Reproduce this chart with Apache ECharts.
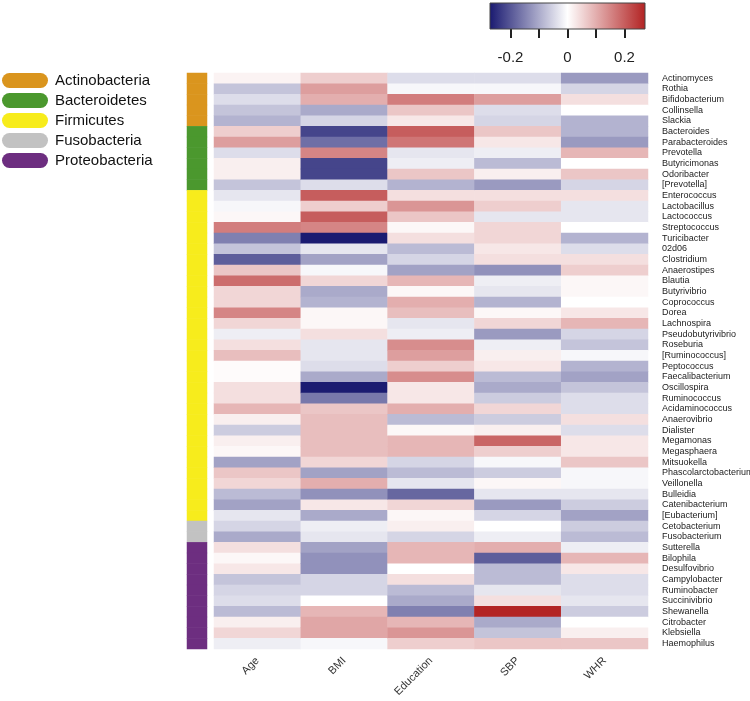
<!DOCTYPE html>
<html>
<head>
<meta charset="utf-8">
<script src="https://cdn.jsdelivr.net/npm/echarts@6/dist/echarts.min.js"></script>
<style>html,body{margin:0;padding:0;background:#fff}#c{width:750px;height:701px}</style>
</head>
<body>
<div id="c"></div>
<script>
const genera = ['Actinomyces','Rothia','Bifidobacterium','Collinsella','Slackia',
  'Bacteroides','Parabacteroides','Prevotella','Butyricimonas','Odoribacter','[Prevotella]',
  'Enterococcus','Lactobacillus','Lactococcus','Streptococcus','Turicibacter','02d06','Clostridium','Anaerostipes','Blautia','Butyrivibrio','Coprococcus','Dorea','Lachnospira','Pseudobutyrivibrio','Roseburia','[Ruminococcus]','Peptococcus','Faecalibacterium','Oscillospira','Ruminococcus','Acidaminococcus','Anaerovibrio','Dialister','Megamonas','Megasphaera','Mitsuokella','Phascolarctobacterium','Veillonella','Bulleidia','Catenibacterium','[Eubacterium]',
  'Cetobacterium','Fusobacterium',
  'Sutterella','Bilophila','Desulfovibrio','Campylobacter','Ruminobacter','Succinivibrio','Shewanella','Citrobacter','Klebsiella','Haemophilus'];
const phyla = ['Actinobacteria','Bacteroidetes','Firmicutes','Fusobacteria','Proteobacteria'];
const phylumCounts = [5, 6, 31, 2, 10];
const phylumColors = ['#DA951E','#4B982E','#F7EC1C','#C2C2C2','#6D2E80'];
const variables = ['Age','BMI','Education','SBP','WHR'];

const age = [0.015,-0.07,-0.04,-0.07,-0.09, 0.06,0.12,-0.04,0.02,0.02,-0.07,
  -0.03,-0.01,0.01,0.16,-0.15,-0.07,-0.19,0.07,0.18,0.05,0.05,0.15,0.05,-0.02,0.04,0.08,0.005,0.005,0.04,0.04,0.09,0.02,-0.06,0.02,0.01,-0.11,0.07,0.05,-0.08,-0.11,-0.03,
  -0.05,-0.10,
  0.04,0.01,0.03,-0.07,-0.05,-0.04,-0.08,0.02,0.05,-0.02];
const bmi = [0.06,0.12,0.10,-0.10,-0.05, -0.22,-0.17,0.15,-0.22,-0.22,-0.04,
  0.20,0.06,0.20,0.15,-0.27,-0.03,-0.11,-0.01,0.05,-0.10,-0.09,0.01,0.01,0.04,-0.03,-0.03,-0.04,-0.10,-0.27,-0.16,0.07,0.08,0.08,0.08,0.08,0.05,-0.11,0.10,-0.13,0.03,-0.10,
  -0.02,-0.03,
  -0.11,-0.13,-0.13,-0.05,-0.05,0.0,0.09,0.11,0.11,-0.01];
const education = [-0.04,-0.01,0.16,0.07,0.03, 0.20,0.17,-0.03,-0.02,0.07,-0.09,
  0.04,0.13,0.07,0.01,0.04,-0.08,-0.05,-0.11,0.09,0.01,0.10,0.08,-0.03,-0.02,0.14,0.12,0.06,0.14,0.03,0.03,0.10,-0.08,0.01,0.09,0.09,-0.05,-0.08,-0.03,-0.18,0.05,0.01,
  0.02,-0.05,
  0.09,0.09,0.0,0.04,-0.08,-0.10,-0.15,0.09,0.13,0.06];
const sbp = [-0.04,-0.01,0.12,-0.04,-0.05, 0.07,0.03,-0.02,-0.08,0.02,-0.12,
  0.04,0.06,-0.03,0.05,0.05,0.03,0.04,-0.13,-0.02,-0.03,-0.09,0.01,0.05,-0.12,-0.02,0.02,0.03,-0.08,-0.10,-0.06,0.05,-0.06,0.02,0.19,0.06,-0.01,-0.06,0.01,-0.03,-0.12,-0.05,
  0.0,-0.02,
  0.10,-0.19,-0.08,-0.08,-0.03,0.04,0.27,-0.10,-0.07,0.07];
const whr = [-0.12,-0.05,0.04,0.0,-0.09, -0.09,-0.12,0.09,0.0,0.07,-0.05,
  0.04,-0.03,-0.03,0.0,-0.09,-0.04,0.04,0.06,0.01,0.01,0.0,0.03,0.09,-0.05,-0.07,-0.01,-0.09,-0.11,-0.07,-0.04,-0.04,0.04,-0.04,0.03,0.03,0.07,-0.01,-0.01,-0.03,-0.06,-0.11,
  -0.06,-0.08,
  -0.02,0.09,0.03,-0.04,-0.04,-0.03,-0.06,0.0,0.02,0.07];
const colorbarTicks = [-0.2, -0.1, 0, 0.1, 0.2];
const colorbarLabels = [-0.2, 0, 0.2];
const colorRange = [-0.272, 0.272];
const rampColors = ['#191970', '#ffffff', '#b22222'];

const columns = [age, bmi, education, sbp, whr];
const mainData = [];
columns.forEach((col, xi) => col.forEach((v, yi) => mainData.push([xi, yi, v])));

const phylumSeries = [];
let rowStart = 0;
phyla.forEach((p, pi) => {
  const d = [];
  for (let r = rowStart; r < rowStart + phylumCounts[pi]; r++) d.push([0, r, 1]);
  rowStart += phylumCounts[pi];
  phylumSeries.push({
    name: p, type: 'heatmap', xAxisIndex: 1, yAxisIndex: 1,
    data: d, itemStyle: { color: phylumColors[pi] }, color: phylumColors[pi],
    emphasis: { disabled: true }, silent: true
  });
});

const font = 'Liberation Sans, Arial, sans-serif';
const chart = echarts.init(document.getElementById('c'), null, { renderer: 'canvas' });
chart.setOption({
  animation: false,
  backgroundColor: '#ffffff',
  textStyle: { fontFamily: font },
  grid: [
    { left: 214, right: 102, top: 73, bottom: 52, containLabel: false, outerBoundsMode: 'none' },
    { left: 187, width: 20, top: 73, bottom: 52, containLabel: false, outerBoundsMode: 'none' },
    { left: 490, width: 155, top: 3, height: 26, containLabel: false, outerBoundsMode: 'none' }
  ],
  xAxis: [
    { type: 'category', gridIndex: 0, data: variables, position: 'bottom',
      axisLine: { show: false }, axisTick: { show: false }, splitLine: { show: false },
      axisLabel: { rotate: 45, fontSize: 11, color: '#333', margin: 10, fontFamily: font } },
    { type: 'category', gridIndex: 1, data: ['phylum'], show: false },
    { type: 'value', gridIndex: 2, min: colorRange[0], max: colorRange[1], position: 'bottom',
      axisLine: { show: false }, splitLine: { show: false },
      axisTick: { show: true, customValues: colorbarTicks, length: 9, lineStyle: { color: '#222', width: 2 } },
      axisLabel: { customValues: colorbarLabels, fontSize: 15, color: '#222', margin: 21, fontFamily: font } }
  ],
  yAxis: [
    { type: 'category', gridIndex: 0, data: genera, inverse: true, position: 'right',
      axisLine: { show: false }, axisTick: { show: false }, splitLine: { show: false },
      axisLabel: { interval: 0, fontSize: 9, color: '#222', margin: 14, fontFamily: font } },
    { type: 'category', gridIndex: 1, data: genera, inverse: true, show: false },
    { type: 'value', gridIndex: 2, show: false, min: 0, max: 1 }
  ],
  visualMap: {
    type: 'continuous', show: false, seriesIndex: 0,
    min: colorRange[0], max: colorRange[1],
    inRange: { color: rampColors }
  },
  legend: {
    orient: 'vertical', left: 2, top: 73, padding: 0,
    itemWidth: 46, itemHeight: 15, itemGap: 5,
    selectedMode: false,
    icon: 'path://M7.5,0 L38.5,0 A7.5,7.5 0 0 1 38.5,15 L7.5,15 A7.5,7.5 0 0 1 7.5,0 Z',
    data: phyla,
    textStyle: { fontSize: 15, color: '#111', fontFamily: font, padding: [0, 0, 0, 2] }
  },
  graphic: [{
    type: 'rect', z: 10,
    shape: { x: 490, y: 3, width: 155, height: 26 },
    style: {
      fill: new echarts.graphic.LinearGradient(0, 0, 1, 0, [
        { offset: 0, color: rampColors[0] },
        { offset: 0.5, color: rampColors[1] },
        { offset: 1, color: rampColors[2] }
      ]),
      stroke: '#444', lineWidth: 1
    }
  }],
  series: [{
    type: 'heatmap', xAxisIndex: 0, yAxisIndex: 0, data: mainData,
    emphasis: { disabled: true }, silent: true
  }].concat(phylumSeries)
});
</script>
</body>
</html>
